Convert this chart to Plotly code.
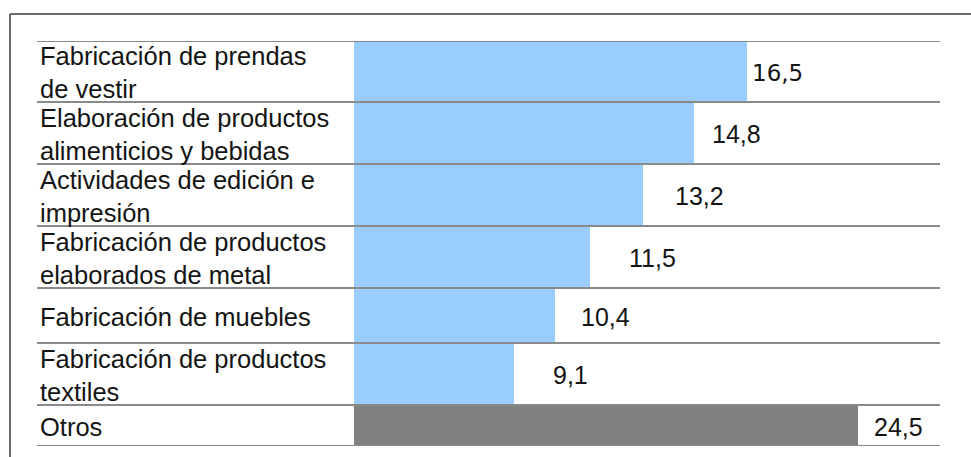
import plotly.graph_objects as go

# ---- data ----
categories = [
    "Fabricación de prendas<br>de vestir",
    "Elaboración de productos<br>alimenticios y bebidas",
    "Actividades de edición e<br>impresión",
    "Fabricación de productos<br>elaborados de metal",
    "Fabricación de muebles",
    "Fabricación de productos<br>textiles",
]
values = [16.5, 14.8, 13.2, 11.5, 10.4, 9.1]
value_labels = ["16,5", "14,8", "13,2", "11,5", "10,4", "9,1"]
other_category = "Otros"
other_value = 24.5
other_label = "24,5"

# ---- layout / style ----
W, H = 971, 457
L, R, T, B = 354, 31, 41, 11
row_heights = [61, 62, 62, 62, 55, 62, 41]
label_shift = [3, 16, 30, 37, 24, 37, 14]
blue = "#99CCFF"
grey = "#808080"
line_col = "#8a8a8a"

pw = W - L - R
ph = H - T - B

bounds = [0]
for h in row_heights:
    bounds.append(bounds[-1] + h)
centers = [(bounds[i] + bounds[i + 1]) / 2 for i in range(len(row_heights))]


def px_x(p):
    return (p - L) / pw


def px_y(p):
    return (H - B - p) / ph


fig = go.Figure()
fig.add_trace(go.Bar(
    x=values, y=centers[:6], width=row_heights[:6], orientation="h",
    marker=dict(color=blue, line=dict(width=0)), xaxis="x", yaxis="y",
    hoverinfo="skip", showlegend=False,
))
fig.add_trace(go.Bar(
    x=[other_value], y=[centers[6]], width=[row_heights[6]], orientation="h",
    marker=dict(color=grey, line=dict(width=0)), xaxis="x2", yaxis="y",
    hoverinfo="skip", showlegend=False,
))

annotations = []
all_cats = categories + [other_category]
for i, c in enumerate(all_cats):
    annotations.append(dict(
        text=c, xref="paper", x=px_x(38), xanchor="left", align="left",
        yref="y", y=centers[i] + 1, yanchor="middle", showarrow=False,
        font=dict(family="Liberation Sans, Arial", size=25.5, color="#141414"),
    ))
for i, (v, lab) in enumerate(zip(values, value_labels)):
    fnt = dict(family="Liberation Sans, Arial", size=25, color="#141414")
    if i == 0:
        fnt = dict(family="DejaVu Sans", size=23, color="#141414")
    annotations.append(dict(
        text=lab, xref="x", x=v, xanchor="left", xshift=label_shift[i],
        yref="y", y=centers[i] + 1, yanchor="middle", showarrow=False,
        font=fnt,
    ))
annotations.append(dict(
    text=other_label, xref="x2", x=other_value, xanchor="left", xshift=label_shift[6],
    yref="y", y=centers[6] + 1, yanchor="middle", showarrow=False,
    font=dict(family="Liberation Sans, Arial", size=25, color="#141414"),
))

shapes = []
for b in bounds:
    shapes.append(dict(type="line", xref="paper", yref="y", x0=px_x(37), x1=px_x(940),
                       y0=b, y1=b, line=dict(color=line_col, width=2), layer="above"))
# outer frame
shapes.append(dict(type="line", xref="paper", yref="paper", x0=px_x(10), x1=px_x(980),
                   y0=px_y(14), y1=px_y(14), line=dict(color="#3a3a3a", width=1.5)))
shapes.append(dict(type="line", xref="paper", yref="paper", x0=px_x(10), x1=px_x(10),
                   y0=px_y(14), y1=px_y(470), line=dict(color="#3a3a3a", width=1.5)))

axis_off = dict(showgrid=False, zeroline=False, showticklabels=False, showline=False, ticks="")
fig.update_layout(
    width=W, height=H,
    margin=dict(l=L, r=R, t=T, b=B, pad=0),
    paper_bgcolor="white", plot_bgcolor="white",
    xaxis=dict(range=[4, 4 + pw / 31.46], **axis_off),
    xaxis2=dict(range=[0, pw / (504 / 24.5)], overlaying="x", **axis_off),
    yaxis=dict(range=[bounds[-1], 0], **axis_off),
    bargap=0, barmode="overlay",
    annotations=annotations, shapes=shapes,
    showlegend=False,
)

fig.write_html("out.html", config={"displayModeBar": False})
